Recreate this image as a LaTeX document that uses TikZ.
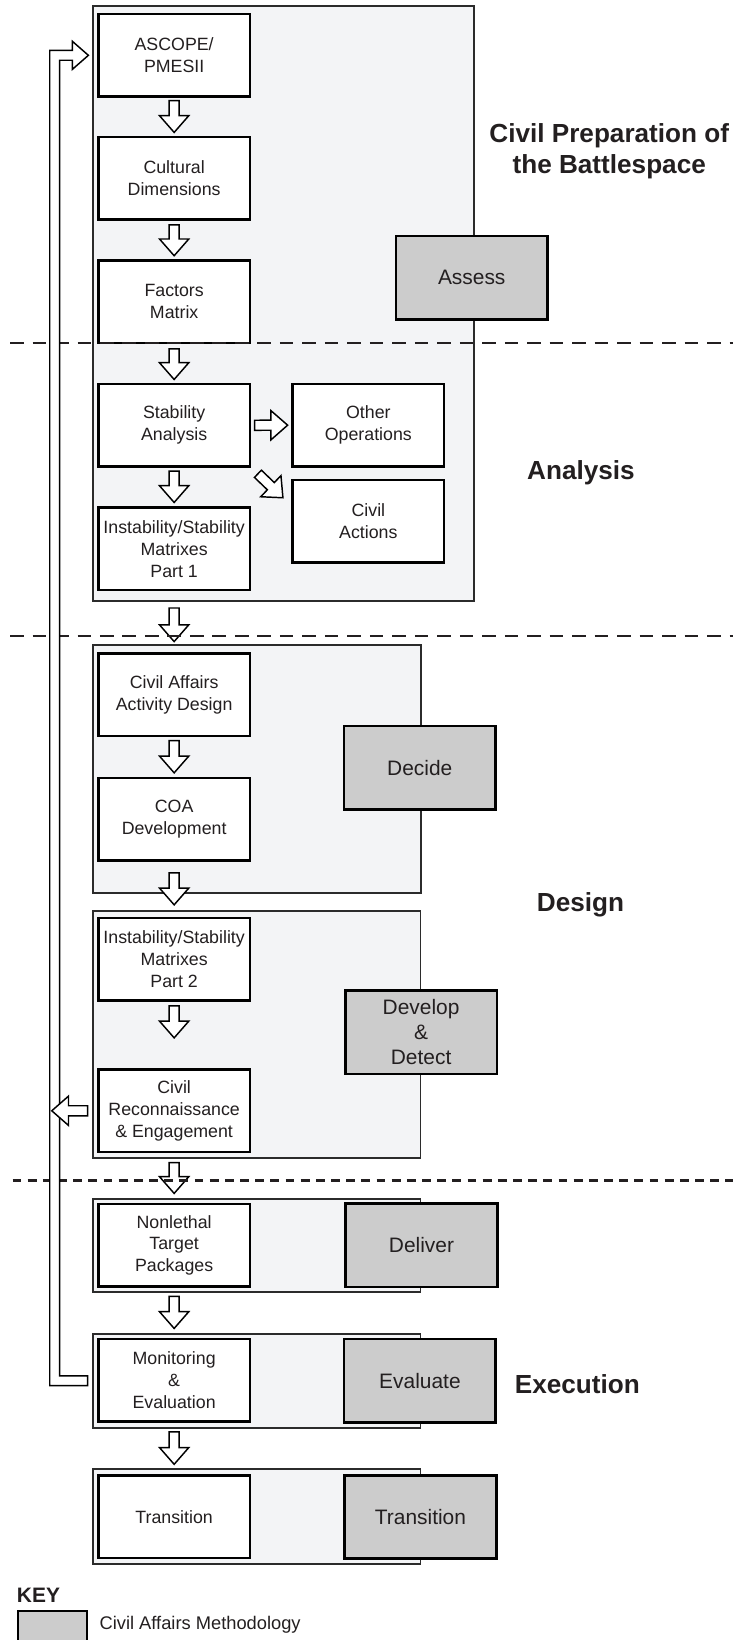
\documentclass[tikz,border=0pt]{standalone}
\usepackage{fontspec}
\setmainfont{Liberation Sans}
\usetikzlibrary{calc}
\definecolor{grpfill}{HTML}{F3F4F6}
\definecolor{grpline}{HTML}{2B2B2B}
\definecolor{keyfill}{HTML}{CCCCCC}
\definecolor{txt}{HTML}{231F20}
\NewDocumentCommand\blockarr{O{3pt}O{3pt}mm}{%
  \coordinate (bs) at ($(#3)!#1!(#4)$);
  \coordinate (bt) at ($(#4)!#2!(#3)$);
  \coordinate (bh) at ($(bt)!16pt!(bs)$);
  \draw[blockarrow] ($(bs)!4.8pt!90:(bt)$) -- ($(bh)!4.8pt!90:(bt)$) -- ($(bh)!14pt!90:(bt)$) -- (bt) -- ($(bh)!14pt!-90:(bt)$) -- ($(bh)!4.8pt!-90:(bt)$) -- ($(bs)!4.8pt!-90:(bt)$) -- cycle;
}
\begin{document}
\begin{tikzpicture}[x=1pt,y=-1pt,
  grp/.style={draw=grpline, line width=1.8pt, fill=grpfill, inner sep=0},
  wbox/.style={draw=black, line width=2.4pt, fill=white, minimum width=145pt, minimum height=79pt, inner sep=0, align=center, text=txt, font=\fontsize{17}{21}\selectfont},
  gbox/.style={draw=black, line width=2.6pt, fill=keyfill, minimum width=145pt, minimum height=79.5pt, inner sep=0, align=center, text=txt, font=\fontsize{20}{24}\selectfont},
  title/.style={text=txt, font=\bfseries\fontsize{25}{29.5}\selectfont, align=center, inner sep=0},
  blockarrow/.style={draw=black, line width=1.4pt, fill=white, line join=miter},
  sep/.style={draw=txt, line width=2.3pt, dash pattern=on 13pt off 8.5pt},
]
\useasboundingbox (0,0) rectangle (701,1568);

% groups
\node[grp, minimum width=364.9pt, minimum height=568.8pt] (g1) at (271.05,290.1) {};
\node[grp, minimum width=313.6pt, minimum height=237pt] (g2) at (245.4,735.5) {};
\node[grp, minimum width=313.4pt, minimum height=236.8pt] (g3) at (245.3,989) {};
\node[grp, minimum width=313.4pt, minimum height=89.2pt] (g4) at (245.3,1190.9) {};
\node[grp, minimum width=313.4pt, minimum height=89.6pt] (g5) at (245.3,1320.1) {};
\node[grp, minimum width=313.4pt, minimum height=90.5pt] (g6) at (245.3,1449.95) {};

% white boxes
\node[wbox] (ascope) at (166.5,52.9) {ASCOPE/\\PMESII};
\node[wbox] (cult) at (166.5,170.5) {Cultural\\Dimensions};
\node[wbox] (fact) at (166.5,288.4) {Factors\\Matrix};
\node[wbox] (stab) at (166.5,406.6) {Stability\\Analysis};
\node[wbox] (inst1) at (166.5,524.6) {Instability/Stability\\Matrixes\\Part 1};
\node[wbox] (other) at (352.2,406.5) {Other\\Operations};
\node[wbox] (civact) at (352.2,498.5) {Civil\\Actions};
\node[wbox] (caad) at (166.5,664.1) {Civil Affairs\\Activity Design};
\node[wbox] (coa) at (166.5,783.4) {COA\\Development};
\node[wbox] (inst2) at (166.5,917) {Instability/Stability\\Matrixes\\Part 2};
\node[wbox] (recon) at (166.5,1062) {Civil\\Reconnaissance\\\& Engagement};
\node[wbox] (nonleth) at (166.5,1190.7) {Nonlethal\\Target\\Packages};
\node[wbox] (monit) at (166.5,1319.7) {Monitoring\\\&\\Evaluation};
\node[wbox] (trans) at (166.5,1450.2) {Transition};

% gray boxes
\node[gbox] (assess) at (451,265.5) {Assess};
\node[gbox] (decide) at (401.3,733.9) {Decide};
\node[gbox] (develop) at (402.6,987) {Develop\\\&\\Detect};
\node[gbox] (deliver) at (403,1190.7) {Deliver};
\node[gbox] (evaluate) at (401.5,1320) {Evaluate};
\node[gbox] (transg) at (402,1450.2) {Transition};

% block arrows
\blockarr[2.6pt][3.2pt]{ascope.south}{cult.north}
\blockarr[3.7pt][3.2pt]{cult.south}{fact.north}
\blockarr[4.4pt][3.1pt]{fact.south}{stab.north}
\blockarr[3.1pt][3.5pt]{stab.south}{inst1.north}
\blockarr[3.2pt][3.5pt]{stab.east}{other.west}
\coordinate (dtail) at ($(stab.south east)+(6.4,5.7)$);
\coordinate (dtip) at ($(stab.south east)+(30.3,28.6)$);
\blockarr[0pt][0pt]{dtail}{dtip}
\blockarr[16pt][10pt]{inst1.south}{caad.north}
\blockarr[3.2pt][3.8pt]{caad.south}{coa.north}
\blockarr[10.5pt][11.2pt]{coa.south}{inst2.north}
\blockarr[4pt][29pt]{inst2.south}{recon.north}
\blockarr[8.9pt][9pt]{recon.south}{nonleth.north}
\blockarr[8pt][8.9pt]{nonleth.south}{monit.north}
\blockarr[8.6pt][9.5pt]{monit.south}{trans.north}

% dashed separators
\draw[sep] (9.6,328.2) -- (701,328.2);
\draw[sep] (9.6,608) -- (701,608);
\draw[sep, dash pattern=on 8.5pt off 6pt] (12,1128.7) -- (701,1128.7);

% feedback loop
\coordinate (lb) at ($(g5.west)+(-4,0)$);
\coordinate (lt) at ($(g1.west |- ascope.west)+(-3.2,0)$);
\coordinate (lx) at (52.25,0);
\draw[blockarrow] ($(lb)+(0,-4.7)$) -- ($(lx |- lb)+(4.7,-4.7)$) -- ($(lx |- lt)+(4.7,4.7)$) -- ($(lt)+(-15.4,4.7)$) -- ($(lt)+(-15.4,13.5)$) -- (lt) -- ($(lt)+(-15.4,-13.5)$) -- ($(lt)+(-15.4,-4.7)$) -- ($(lx |- lt)+(-4.7,-4.7)$) -- ($(lx |- lb)+(-4.7,4.7)$) -- ($(lb)+(0,4.7)$) -- cycle;
\coordinate (rl) at (g3.west |- recon.west);
\coordinate (rtip) at ($(rl)+(-38.2,0)$);
\blockarr[4pt][0pt]{rl}{rtip}

% titles
\node[title] (tcpb) at (582.5,145) {Civil Preparation of\\the Battlespace};
\node[title, anchor=base] (tan) at (555.5,458) {Analysis};
\node[title, anchor=base] (tde) at (555,871) {Design};
\node[title, anchor=base] (tex) at (552,1332) {Execution};

% key
\node[font=\bfseries\fontsize{20}{24}\selectfont, text=txt, anchor=base west, inner sep=0] (key) at (16,1532.6) {KEY};
\node[draw=black, line width=2.6pt, fill=keyfill, minimum width=66pt, minimum height=70pt, inner sep=0, anchor=north west] (keybox) at (16,1539) {};
\node[font=\fontsize{17.5}{21}\selectfont, text=txt, anchor=base west, inner sep=0] (keytxt) at (95,1558.4) {Civil Affairs Methodology};
\end{tikzpicture}
\end{document}
